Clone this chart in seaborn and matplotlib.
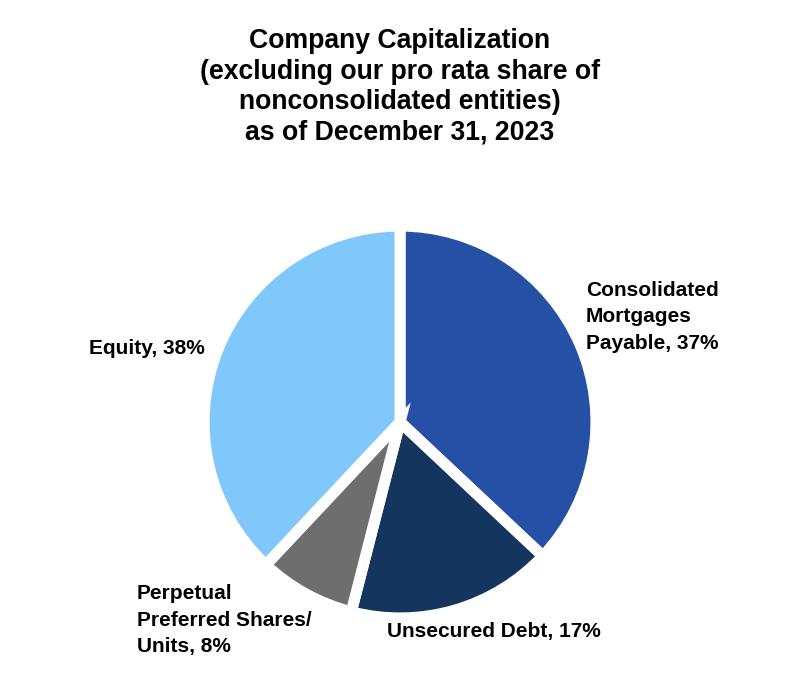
import numpy as np
import pandas as pd
import matplotlib
matplotlib.use('Agg')
import matplotlib.pyplot as plt
import seaborn as sns

sns.set_theme(style='white')
plt.rcParams['font.family'] = ['Liberation Sans', 'DejaVu Sans']

# Capitalization shares (%), clockwise from 12 o'clock
categories = ['Consolidated\nMortgages\nPayable', 'Unsecured Debt',
              'Perpetual\nPreferred Shares/\nUnits', 'Equity']
shares = [37, 17, 8, 38]
colors = ['#2650a6', '#14365e', '#6e6e6e', '#80c8fc']

df = pd.DataFrame({'category': categories, 'share': shares})

W, H = 800, 690
fig = plt.figure(figsize=(W / 100, H / 100), dpi=100)

# pie centre / radius in pixels
cx, cy, r = 400, 422, 196
ax = fig.add_axes([(cx - r) / W, 1 - (cy + r) / H, 2 * r / W, 2 * r / H])
ax.pie(df['share'], colors=colors, startangle=90, counterclock=False,
       radius=1, wedgeprops=dict(edgecolor='white', linewidth=8))
ax.set_xlim(-1, 1)
ax.set_ylim(-1, 1)
ax.set_aspect('equal')
ax.axis('off')

fig.text(0.5, 1 - 87 / H,
         'Company Capitalization\n(excluding our pro rata share of\n'
         'nonconsolidated entities)\nas of December 31, 2023',
         ha='center', va='center', fontsize=19.2, fontweight='bold',
         linespacing=1.22, color='black')

lab = [f'{c}, {s}%' for c, s in zip(df['category'], df['share'])]
lbl_kw = dict(fontsize=15, fontweight='bold', color='black', linespacing=1.47)
fig.text(586 / W, 1 - 317 / H, lab[0], ha='left', va='center', **lbl_kw)
fig.text(494 / W, 1 - 632 / H, lab[1], ha='center', va='center', **lbl_kw)
fig.text(137 / W, 1 - 620 / H, lab[2], ha='left', va='center', **lbl_kw)
fig.text(205 / W, 1 - 348 / H, lab[3], ha='right', va='center', **lbl_kw)

fig.savefig('out.png', dpi=100, facecolor='white')
